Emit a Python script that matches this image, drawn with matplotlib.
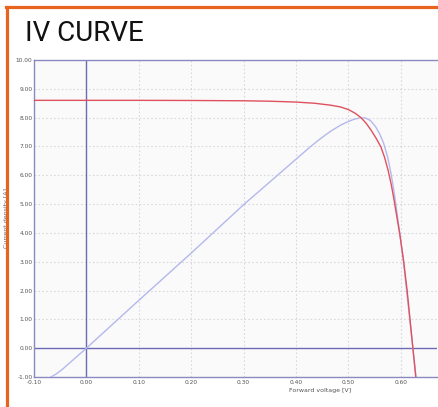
import matplotlib
matplotlib.use("Agg")
import matplotlib.pyplot as plt
from matplotlib.lines import Line2D

# Data
iv_voltage = [-0.10, 0.00, 0.10, 0.20, 0.30, 0.35, 0.40, 0.435, 0.467, 0.485, 0.50,
              0.513, 0.524, 0.534, 0.543, 0.553, 0.562, 0.569, 0.576, 0.582,
              0.587, 0.592, 0.598, 0.6055, 0.612, 0.6175, 0.623, 0.6285]
iv_current = [8.60, 8.60, 8.60, 8.595, 8.585, 8.57, 8.54, 8.50, 8.43, 8.37, 8.28,
              8.15, 8.00, 7.80, 7.57, 7.28, 6.98, 6.62, 6.15, 5.65,
              5.15, 4.60, 3.95, 3.00, 2.00, 1.00, 0.00, -1.00]

pv_voltage = [-0.068, -0.058, -0.045, 0.00, 0.10, 0.20, 0.30, 0.371, 0.40, 0.428,
              0.448, 0.467, 0.485, 0.50, 0.512, 0.522, 0.532, 0.542, 0.552, 0.56,
              0.567, 0.575, 0.581, 0.586, 0.590, 0.594, 0.598, 0.605, 0.611,
              0.617, 0.623, 0.629]
pv_power = [-1.00, -0.90, -0.72, 0.00, 1.66, 3.30, 4.98, 6.10, 6.56, 7.00,
            7.29, 7.54, 7.74, 7.87, 7.95, 7.99, 7.99, 7.90, 7.68, 7.42,
            7.12, 6.62, 6.08, 5.55, 5.05, 4.52, 4.00, 3.00, 2.00,
            1.00, 0.00, -1.00]

x_ticks = [-0.10, 0.00, 0.10, 0.20, 0.30, 0.40, 0.50, 0.60]
y_ticks = [-1, 0, 1, 2, 3, 4, 5, 6, 7, 8, 9, 10]

W, H = 439, 407
fig = plt.figure(figsize=(W / 100, H / 100), dpi=100)
fig.patch.set_facecolor("white")

def fx(px):
    return px / W

def fy(py):
    return 1 - py / H

ax = fig.add_axes([fx(34), fy(377), fx(437) - fx(34), fy(60) - fy(377)])
ax.set_facecolor("#fafafa")
ax.set_xlim(-0.097, 0.669)
ax.set_ylim(-1, 10)

ax.grid(True, color="#d8d8e0", linestyle=(0, (1.5, 2)), linewidth=0.8)
ax.set_axisbelow(True)

ax.axhline(0, color="#6b6bb5", linewidth=1.0, zorder=2)
ax.axvline(0, color="#6b6bb5", linewidth=1.0, zorder=2)

ax.plot(pv_voltage, pv_power, color="#b4b8ec", linewidth=1.0, zorder=3)
ax.plot(iv_voltage, iv_current, color="#e0505e", linewidth=1.0, zorder=4)

ax.set_xticks(x_ticks)
ax.set_xticklabels([f"{v:.2f}" for v in x_ticks])
ax.set_yticks(y_ticks)
ax.set_yticklabels([f"{v:.2f}" for v in y_ticks])
ax.tick_params(axis="both", labelsize=4.2, colors="#555555", length=0, pad=2)
ax.tick_params(axis="y", pad=1)

for side in ["left", "bottom", "top"]:
    ax.spines[side].set_color("#8a8ac0")
    ax.spines[side].set_linewidth(1.0)
ax.spines["right"].set_visible(False)

ax.set_xlabel("Forward voltage [V]", fontsize=4.5, color="#555555", labelpad=-1)
ax.xaxis.set_label_coords((320 - 34) / (437 - 34), -0.035)
ax.set_ylabel("Current density [A]", fontsize=4.5, color="#666666")
ax.yaxis.set_label_coords(-0.062, 0.5)

# Title
fig.text(fx(25), fy(41), "IV CURVE", fontsize=20, color="#111111",
         family="Roboto", ha="left", va="baseline")

# Orange frame
fig.add_artist(Line2D([fx(7.5), fx(7.5)], [fy(6.5), 0], color="#e8641e",
                      linewidth=2.3, transform=fig.transFigure))
fig.add_artist(Line2D([fx(6.5), 1], [fy(6.5), fy(6.5)], color="#e8641e",
                      linewidth=2.3, transform=fig.transFigure))

fig.savefig("out.png", dpi=100, facecolor="white")
